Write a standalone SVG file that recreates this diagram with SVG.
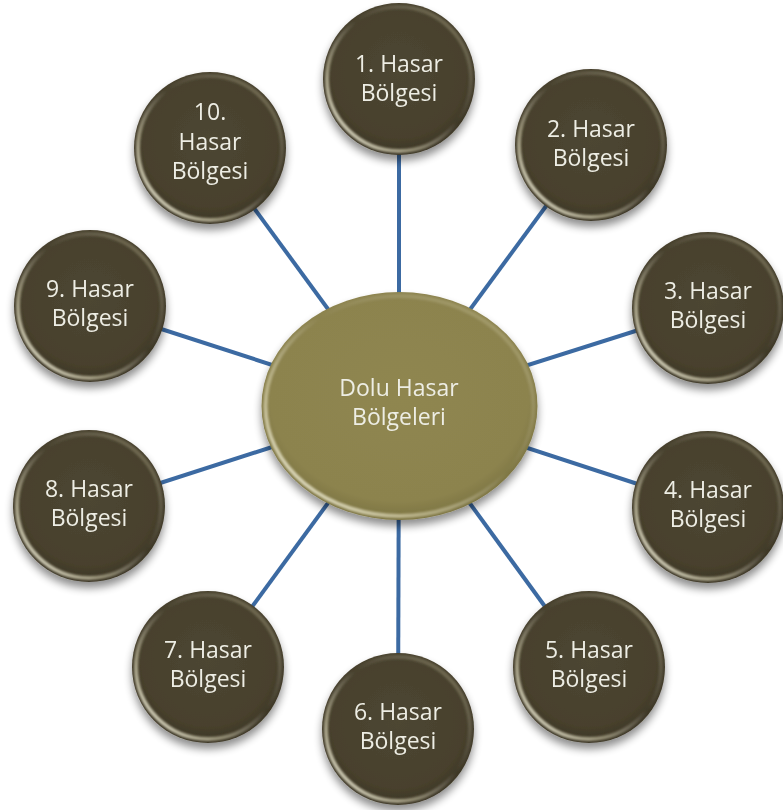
<svg xmlns="http://www.w3.org/2000/svg" width="783" height="810" viewBox="0 0 783 810">
<defs>
<radialGradient id="gNode" cx="0.5" cy="0.45" r="0.55">
<stop offset="0" stop-color="#4D4632"/>
<stop offset="0.8" stop-color="#48412D"/>
<stop offset="1" stop-color="#3A3424"/>
</radialGradient>
<linearGradient id="gRim" x1="0" y1="1" x2="1" y2="0">
<stop offset="0" stop-color="#FFFFF0" stop-opacity="0.95"/>
<stop offset="0.3" stop-color="#E8E2C0" stop-opacity="0.5"/>
<stop offset="0.55" stop-color="#FFFFFF" stop-opacity="0"/>
<stop offset="0.85" stop-color="#D8D2B0" stop-opacity="0.25"/>
<stop offset="1" stop-color="#FFFFFF" stop-opacity="0.6"/>
</linearGradient>
<radialGradient id="gCenter" cx="0.5" cy="0.45" r="0.55">
<stop offset="0" stop-color="#8F8650"/>
<stop offset="0.85" stop-color="#8C834E"/>
<stop offset="1" stop-color="#7A7240"/>
</radialGradient>
<filter id="shadow" x="-20%" y="-20%" width="140%" height="150%">
<feGaussianBlur in="SourceAlpha" stdDeviation="4"/>
<feOffset dx="0" dy="6" result="b"/>
<feComponentTransfer><feFuncA type="linear" slope="0.45"/></feComponentTransfer>
<feMerge><feMergeNode/><feMergeNode in="SourceGraphic"/></feMerge>
</filter>
<filter id="soft"><feGaussianBlur stdDeviation="1.2"/></filter>
</defs>
<style>
.conn{stroke:#3C6AA2;stroke-width:4;fill:none}
.node{fill:url(#gNode)}
.rim{fill:none;stroke:url(#gRim);stroke-width:4;filter:url(#soft)}
.edge{fill:none;stroke:#2E2A1E;stroke-width:1}
.center{fill:url(#gCenter)}
.t{font-family:"Open Sans","DejaVu Sans",sans-serif;font-size:23px;fill:#EDEDE4;text-anchor:middle}
</style>
<rect width="783" height="810" fill="#FFFFFF"/>
<g id="connectors">
<line class="conn" x1="399" y1="406" x2="399" y2="79"/>
<line class="conn" x1="399" y1="406" x2="591" y2="145"/>
<line class="conn" x1="399" y1="406" x2="708" y2="308"/>
<line class="conn" x1="399" y1="406" x2="708" y2="507"/>
<line class="conn" x1="399" y1="406" x2="589" y2="667"/>
<line class="conn" x1="399" y1="406" x2="398" y2="729"/>
<line class="conn" x1="399" y1="406" x2="208" y2="667"/>
<line class="conn" x1="399" y1="406" x2="89" y2="506"/>
<line class="conn" x1="399" y1="406" x2="90" y2="306"/>
<line class="conn" x1="399" y1="406" x2="210" y2="148"/>
</g>
<g id="center" filter="url(#shadow)">
<ellipse class="center" cx="399.5" cy="406" rx="138" ry="114"/>
<ellipse class="rim" cx="399.5" cy="406" rx="134" ry="110"/>
<text class="t" x="399" y="396">Dolu Hasar</text>
<text class="t" x="399" y="425">Bölgeleri</text>
</g>
<g id="n1" filter="url(#shadow)">
<circle class="node" cx="399" cy="79" r="76"/>
<circle class="rim" cx="399" cy="79" r="72"/>
<text class="t" x="399" y="72">1. Hasar</text>
<text class="t" x="399" y="101">Bölgesi</text>
</g>
<g id="n2" filter="url(#shadow)">
<circle class="node" cx="591" cy="145" r="76"/>
<circle class="rim" cx="591" cy="145" r="72"/>
<text class="t" x="591" y="137">2. Hasar</text>
<text class="t" x="591" y="166">Bölgesi</text>
</g>
<g id="n3" filter="url(#shadow)">
<circle class="node" cx="708" cy="308" r="76"/>
<circle class="rim" cx="708" cy="308" r="72"/>
<text class="t" x="708" y="299">3. Hasar</text>
<text class="t" x="708" y="328">Bölgesi</text>
</g>
<g id="n4" filter="url(#shadow)">
<circle class="node" cx="708" cy="507" r="76"/>
<circle class="rim" cx="708" cy="507" r="72"/>
<text class="t" x="708" y="498">4. Hasar</text>
<text class="t" x="708" y="527">Bölgesi</text>
</g>
<g id="n5" filter="url(#shadow)">
<circle class="node" cx="589" cy="667" r="76"/>
<circle class="rim" cx="589" cy="667" r="72"/>
<text class="t" x="589" y="658">5. Hasar</text>
<text class="t" x="589" y="687">Bölgesi</text>
</g>
<g id="n6" filter="url(#shadow)">
<circle class="node" cx="398" cy="729" r="76"/>
<circle class="rim" cx="398" cy="729" r="72"/>
<text class="t" x="398" y="720">6. Hasar</text>
<text class="t" x="398" y="749">Bölgesi</text>
</g>
<g id="n7" filter="url(#shadow)">
<circle class="node" cx="208" cy="667" r="76"/>
<circle class="rim" cx="208" cy="667" r="72"/>
<text class="t" x="208" y="658">7. Hasar</text>
<text class="t" x="208" y="687">Bölgesi</text>
</g>
<g id="n8" filter="url(#shadow)">
<circle class="node" cx="89" cy="506" r="76"/>
<circle class="rim" cx="89" cy="506" r="72"/>
<text class="t" x="89" y="497">8. Hasar</text>
<text class="t" x="89" y="526">Bölgesi</text>
</g>
<g id="n9" filter="url(#shadow)">
<circle class="node" cx="90" cy="306" r="76"/>
<circle class="rim" cx="90" cy="306" r="72"/>
<text class="t" x="90" y="297">9. Hasar</text>
<text class="t" x="90" y="326">Bölgesi</text>
</g>
<g id="n10" filter="url(#shadow)">
<circle class="node" cx="210" cy="148" r="76"/>
<circle class="rim" cx="210" cy="148" r="72"/>
<text class="t" x="210" y="120">10.</text>
<text class="t" x="210" y="150">Hasar</text>
<text class="t" x="210" y="179">Bölgesi</text>
</g>
</svg>
